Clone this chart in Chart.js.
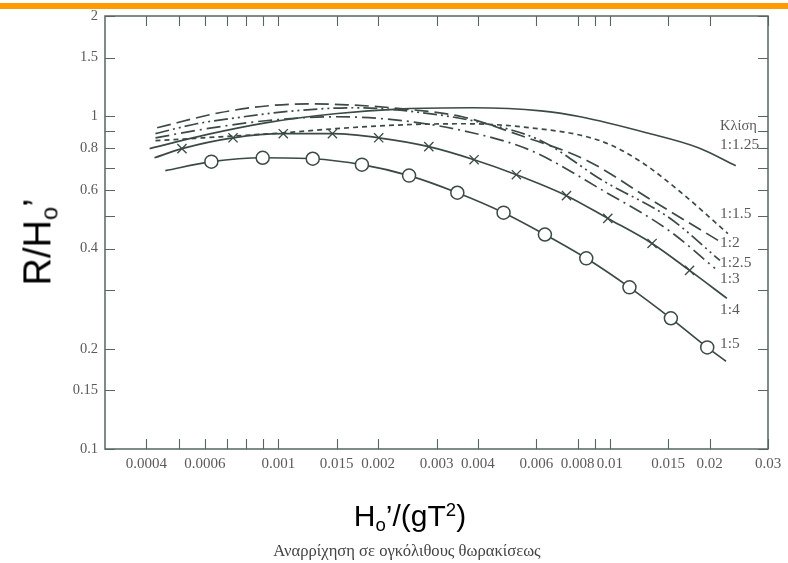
<!DOCTYPE html>
<html>
<head>
<meta charset="utf-8">
<script src="https://cdn.jsdelivr.net/npm/chart.js@4/dist/chart.umd.min.js"></script>
<style>
  html, body { margin: 0; padding: 0; background: #fff; }
  #wrap { position: relative; width: 788px; height: 563px; overflow: hidden; }
  #bar { position: absolute; left: 0; top: 3px; width: 788px; height: 6px; background: #ff9a00; z-index: 2; }
  #cv { position: absolute; left: 0; top: 0; }
  .ttl { position: absolute; white-space: nowrap; font-family: "Liberation Sans", Arial, sans-serif; color: #000; line-height: 1; }
  #ytitle { left: 40px; top: 242px; font-size: 38px; transform: translate(-50%, -50%) rotate(-90deg); }
  #xtitle { left: 410px; top: 518px; font-size: 30px; transform: translate(-50%, -50%); }
  #caption { position: absolute; left: 407px; top: 551px; transform: translate(-50%, -50%); white-space: nowrap;
             font-family: "Liberation Serif", "DejaVu Serif", serif; font-size: 16.6px; color: #444; }
  sub { font-size: 0.62em; vertical-align: -0.28em; }
  sup { font-size: 0.62em; vertical-align: 0.55em; }
</style>
</head>
<body>
<div id="wrap">
  <div id="bar"></div>
  <canvas id="cv" width="788" height="563"></canvas>
  <div class="ttl" id="ytitle">R/H<sub>o</sub>’</div>
  <div class="ttl" id="xtitle">H<sub>o</sub>’/(gT<sup>2</sup>)</div>
  <div id="caption">Αναρρίχηση σε ογκόλιθους θωρακίσεως</div>
</div>
<script>
// ---------------- data ----------------
const seriesNames = ["1:1.25", "1:1.5", "1:2", "1:2.5", "1:3", "1:4", "1:5"];

const x_125 = [0.000409, 0.000607, 0.000915, 0.00148, 0.00238, 0.00384, 0.0062, 0.00815, 0.01288, 0.01849, 0.02398];
const y_125 = [0.799, 0.880, 0.955, 1.017, 1.052, 1.060, 1.038, 0.996, 0.892, 0.804, 0.710];

const x_15 = [0.000426, 0.000746, 0.00105, 0.00148, 0.00238, 0.00359, 0.00541, 0.00934, 0.01227, 0.01613, 0.0227];
const y_15 = [0.844, 0.873, 0.892, 0.917, 0.942, 0.949, 0.929, 0.844, 0.735, 0.598, 0.444];

const x_2 = [0.000431, 0.000664, 0.000934, 0.00123, 0.00161, 0.00238, 0.00359, 0.00541, 0.00855, 0.01342, 0.02194];
const y_2 = [0.923, 1.024, 1.075, 1.089, 1.082, 1.052, 0.996, 0.873, 0.735, 0.558, 0.415];

const x_25 = [0.000426, 0.000567, 0.000746, 0.00112, 0.00169, 0.00273, 0.00412, 0.0062, 0.00953, 0.01507, 0.02149];
const y_25 = [0.886, 0.949, 0.989, 1.038, 1.060, 1.024, 0.955, 0.844, 0.640, 0.496, 0.3686];

const x_3 = [0.000426, 0.000607, 0.000915, 0.00148, 0.00238, 0.00384, 0.00579, 0.00953, 0.01507, 0.02077];
const y_3 = [0.861, 0.917, 0.969, 0.996, 0.969, 0.892, 0.788, 0.598, 0.4535, 0.3488];

const x_4 = [0.000423, 0.000512, 0.000730, 0.001035, 0.001456, 0.002008, 0.002844, 0.003895, 0.005225, 0.0074, 0.00986, 0.01341, 0.0174, 0.02255];
const y_4 = [0.750, 0.799, 0.861, 0.886, 0.886, 0.861, 0.810, 0.740, 0.667, 0.577, 0.493, 0.4146, 0.344, 0.2836];

const x_5 = [0.000456, 0.000628, 0.000897, 0.00127, 0.001787, 0.00248, 0.003467, 0.00478, 0.00637, 0.00849, 0.01146, 0.01528, 0.01967, 0.0224];
const y_5 = [0.686, 0.730, 0.750, 0.745, 0.715, 0.663, 0.589, 0.513, 0.441, 0.374, 0.306, 0.247, 0.202, 0.1835];

const xTickValues = [0.0004, 0.0005, 0.0006, 0.0007, 0.0008, 0.0009, 0.001, 0.0015, 0.002, 0.003, 0.004, 0.006, 0.008, 0.009, 0.01, 0.015, 0.02, 0.03];
const xTickLabels = ["0.0004", "", "0.0006", "", "", "", "0.001", "0.015", "0.002", "0.003", "0.004", "0.006", "0.008", "", "0.01", "0.015", "0.02", "0.03"];

const yTickValues = [0.1, 0.15, 0.2, 0.3, 0.4, 0.5, 0.6, 0.7, 0.8, 0.9, 1, 1.5, 2];
const yTickLabels = ["0.1", "0.15", "0.2", "", "0.4", "", "0.6", "", "0.8", "", "1", "1.5", "2"];

const legendHeading = "Κλίση";

// ---------------- styling ----------------
const INK = "#3b4a44";
const AXIS = "#55675f";
const LABEL = "#5a5a5a";
const SERIF = '"Liberation Serif", "DejaVu Serif", serif';

function pts(xs, ys) { return xs.map((v, i) => ({ x: v, y: ys[i] })); }
function innerRadius(n, r) { return Array.from({ length: n }, (_, i) => (i === 0 || i === n - 1) ? 0 : r); }

const base = { borderColor: INK, borderWidth: 1.7, pointRadius: 0, fill: false, cubicInterpolationMode: "monotone" };

const datasets = [
  Object.assign({}, base, { label: seriesNames[0], data: pts(x_125, y_125) }),
  Object.assign({}, base, { label: seriesNames[1], data: pts(x_15, y_15), borderDash: [5, 4] }),
  Object.assign({}, base, { label: seriesNames[2], data: pts(x_2, y_2), borderDash: [14, 6] }),
  Object.assign({}, base, { label: seriesNames[3], data: pts(x_25, y_25), borderDash: [14, 4, 2, 4, 2, 4] }),
  Object.assign({}, base, { label: seriesNames[4], data: pts(x_3, y_3), borderDash: [14, 5, 2, 5] }),
  Object.assign({}, base, { label: seriesNames[5], data: pts(x_4, y_4),
    pointStyle: "crossRot", pointRadius: innerRadius(x_4.length, 6.5), pointBorderColor: INK, pointBorderWidth: 1.3 }),
  Object.assign({}, base, { label: seriesNames[6], data: pts(x_5, y_5),
    pointStyle: "circle", pointRadius: innerRadius(x_5.length, 6.5), pointBackgroundColor: "#fff",
    pointBorderColor: INK, pointBorderWidth: 1.5 })
];

// label anchors (slope names written at the right end, inside the plot)
const labelAnchorX = 0.0215;
const labelAnchorY = [0.936, 0.821, 0.510, 0.415, 0.3635, 0.3233, 0.261, 0.2064];

const frameAndTicks = {
  id: "frameAndTicks",
  afterDraw(chart) {
    const { ctx, chartArea: { left, right, top, bottom }, scales: { x, y } } = chart;
    ctx.save();
    ctx.strokeStyle = AXIS;
    ctx.lineWidth = 1.5;
    ctx.strokeRect(left, top, right - left, bottom - top);
    ctx.lineWidth = 1.1;
    ctx.beginPath();
    xTickValues.forEach(v => {
      const px = Math.round(x.getPixelForValue(v)) + 0.5;
      ctx.moveTo(px, bottom); ctx.lineTo(px, bottom - 10);
      ctx.moveTo(px, top); ctx.lineTo(px, top + 10);
    });
    yTickValues.forEach(v => {
      const py = Math.round(y.getPixelForValue(v)) + 0.5;
      ctx.moveTo(left, py); ctx.lineTo(left + 10, py);
      ctx.moveTo(right, py); ctx.lineTo(right - 10, py);
    });
    ctx.stroke();

    ctx.fillStyle = LABEL;
    ctx.textAlign = "left";
    ctx.textBaseline = "middle";
    const px = x.getPixelForValue(labelAnchorX);
    ctx.font = "14.5px " + SERIF;
    ctx.fillText(legendHeading, px, y.getPixelForValue(labelAnchorY[0]));
    ctx.font = "15.5px " + SERIF;
    seriesNames.forEach((name, i) => {
      ctx.fillText(name, px, y.getPixelForValue(labelAnchorY[i + 1]));
    });
    ctx.restore();
  }
};

new Chart(document.getElementById("cv"), {
  type: "line",
  data: { datasets },
  options: {
    responsive: false,
    animation: false,
    events: [],
    layout: { padding: { left: 0, top: 16, right: 20, bottom: 0 } },
    plugins: { legend: { display: false }, tooltip: { enabled: false }, title: { display: false } },
    scales: {
      x: {
        type: "logarithmic",
        min: 0.00032,
        max: 0.03,
        afterBuildTicks: s => { s.ticks = xTickValues.map(v => ({ value: v })); },
        afterFit: s => { s.height = 114; },
        grid: { display: false, drawTicks: false },
        border: { display: false },
        ticks: {
          autoSkip: false, maxRotation: 0, minRotation: 0, padding: 6,
          color: LABEL, font: { family: SERIF, size: 15 },
          callback: (v, i) => xTickLabels[i]
        }
      },
      y: {
        type: "logarithmic",
        min: 0.1,
        max: 2,
        afterBuildTicks: s => { s.ticks = yTickValues.map(v => ({ value: v })); },
        afterFit: s => { s.width = 105; },
        grid: { display: false, drawTicks: false },
        border: { display: false },
        ticks: {
          autoSkip: false, padding: 7,
          color: LABEL, font: { family: SERIF, size: 14.5 },
          callback: (v, i) => yTickLabels[i]
        }
      }
    }
  },
  plugins: [frameAndTicks]
});
</script>
</body>
</html>
